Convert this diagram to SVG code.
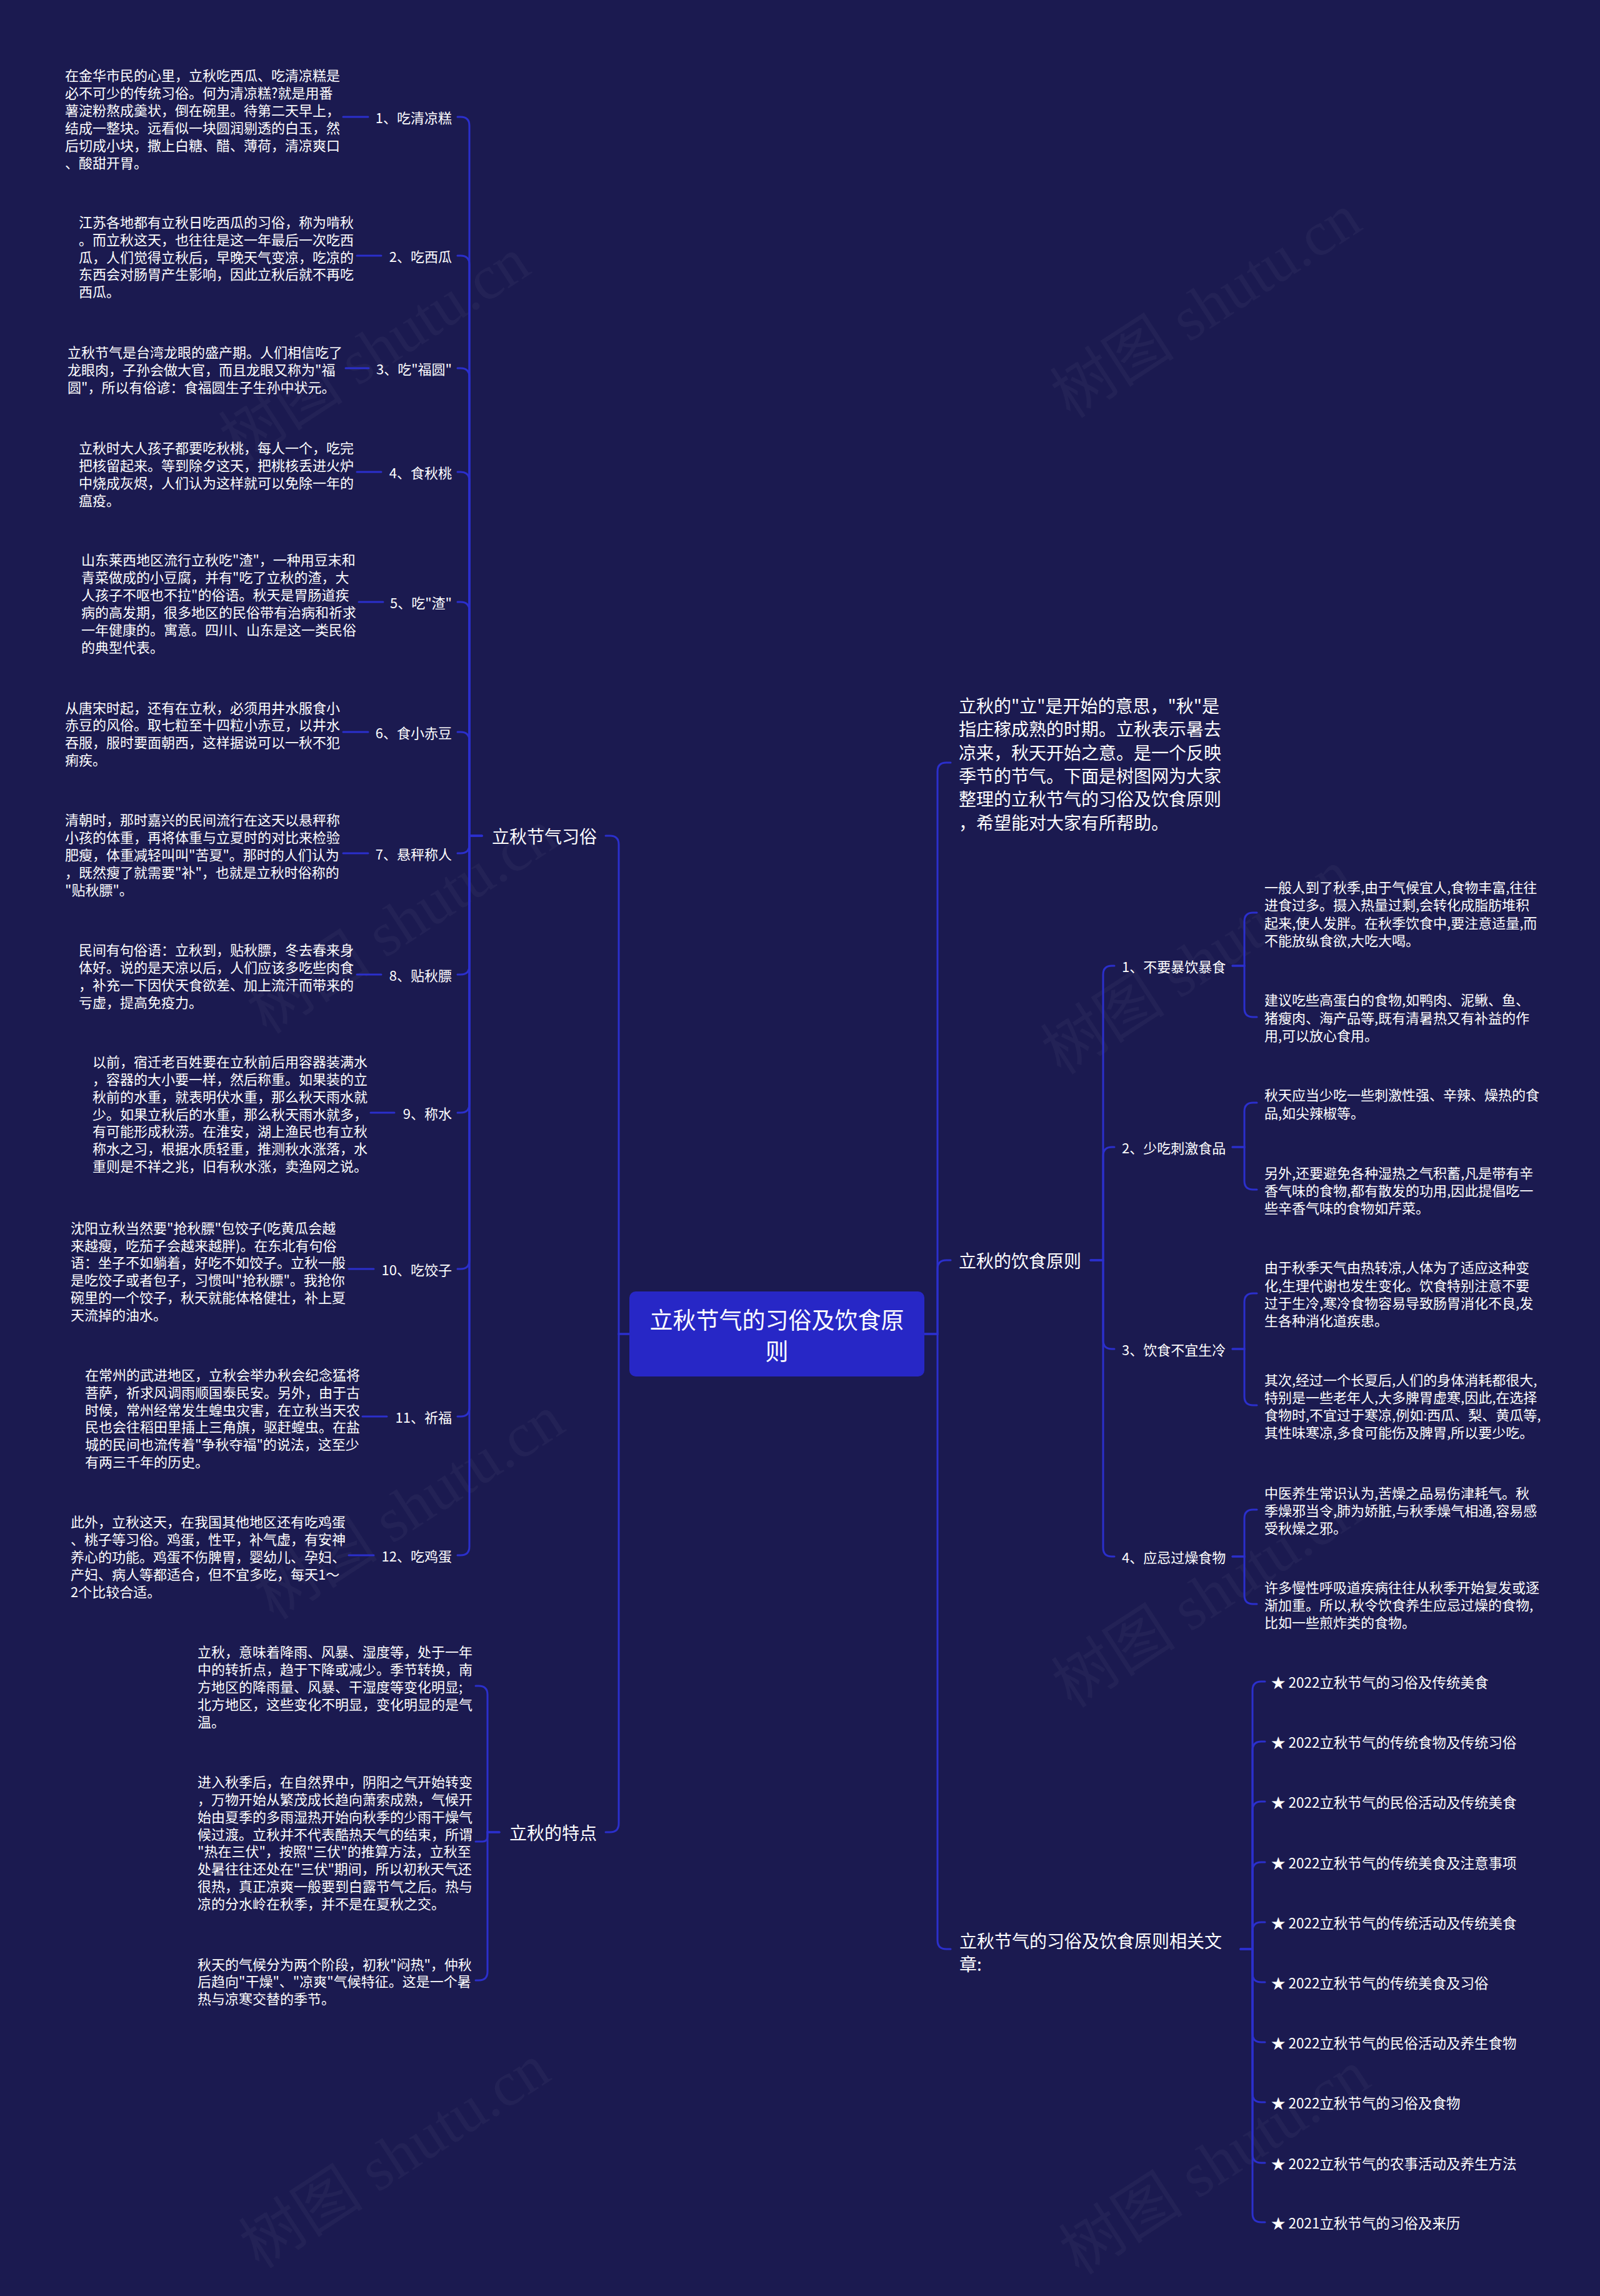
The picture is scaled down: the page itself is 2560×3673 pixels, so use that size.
<svg xmlns="http://www.w3.org/2000/svg" width="2560" height="3673" viewBox="0 0 2560 3673">
<style>
text{font-family:"Noto Sans CJK SC","Noto Sans",sans-serif;fill:#ffffff;dominant-baseline:central}
.lf{font-size:22px}
.lb{font-size:22px}
.b1{font-size:28px}
.st{font-size:22.5px}
.ct{font-size:37px}
.wm{font-family:"Liberation Serif","Noto Sans CJK SC",serif;font-size:100px;fill:#ffffff;fill-opacity:0.035}
#connectors path{fill:none;stroke:#2b2fcc;stroke-width:3;stroke-linecap:round}
</style>
<rect x="0" y="0" width="2560" height="3673" fill="#1b1a50"/>
<g id="watermarks">
<text class="wm" transform="translate(600,560) rotate(-33)" text-anchor="middle">树图 shutu.cn</text>
<text class="wm" transform="translate(1930,490) rotate(-33)" text-anchor="middle">树图 shutu.cn</text>
<text class="wm" transform="translate(644,1475) rotate(-33)" text-anchor="middle">树图 shutu.cn</text>
<text class="wm" transform="translate(1915,1540) rotate(-33)" text-anchor="middle">树图 shutu.cn</text>
<text class="wm" transform="translate(655,2412) rotate(-33)" text-anchor="middle">树图 shutu.cn</text>
<text class="wm" transform="translate(1932,2553) rotate(-33)" text-anchor="middle">树图 shutu.cn</text>
<text class="wm" transform="translate(632,3450) rotate(-33)" text-anchor="middle">树图 shutu.cn</text>
<text class="wm" transform="translate(1944,3460) rotate(-33)" text-anchor="middle">树图 shutu.cn</text>
</g>
<g id="connectors">
<path d="M1007,2134 H990 V1351 Q990,1337 976,1337 H969"/>
<path d="M1007,2134 H990 V2917 Q990,2931 976,2931 H969"/>
<path d="M1479,2134 H1500 V1234 Q1500,1220 1514,1220 H1521"/>
<path d="M1479,2134 H1500 V2030 Q1500,2016 1514,2016 H1521"/>
<path d="M1479,2134 H1500 V3104 Q1500,3118 1514,3118 H1521"/>
<path d="M771,1337 H751 V201 Q751,187 737,187 H732"/>
<path d="M771,1337 H751 V423 Q751,409 737,409 H732"/>
<path d="M771,1337 H751 V603 Q751,589 737,589 H732"/>
<path d="M771,1337 H751 V769 Q751,755 737,755 H732"/>
<path d="M771,1337 H751 V977 Q751,963 737,963 H732"/>
<path d="M771,1337 H751 V1185 Q751,1171 737,1171 H732"/>
<path d="M771,1337 H751 V1351 Q751,1365 737,1365 H732"/>
<path d="M771,1337 H751 V1545 Q751,1559 737,1559 H732"/>
<path d="M771,1337 H751 V1766 Q751,1780 737,1780 H732"/>
<path d="M771,1337 H751 V2016 Q751,2030 737,2030 H732"/>
<path d="M771,1337 H751 V2252 Q751,2266 737,2266 H732"/>
<path d="M771,1337 H751 V2474 Q751,2488 737,2488 H732"/>
<path d="M549,187 H589"/>
<path d="M571,409 H610"/>
<path d="M553,589 H590"/>
<path d="M571,755 H610"/>
<path d="M574,963 H613"/>
<path d="M549,1171 H589"/>
<path d="M549,1365 H589"/>
<path d="M571,1559 H610"/>
<path d="M593,1780 H631"/>
<path d="M558,2030 H598"/>
<path d="M580,2266 H619"/>
<path d="M558,2488 H598"/>
<path d="M799,2931 H780 V2711 Q780,2697 766,2697 H761"/>
<path d="M799,2931 H780 V2938 Q780,2946 772,2946 H761"/>
<path d="M799,2931 H780 V3154 Q780,3168 766,3168 H761"/>
<path d="M1745,2016 H1765 V1559 Q1765,1545 1779,1545 H1783"/>
<path d="M1745,2016 H1765 V1849 Q1765,1835 1779,1835 H1783"/>
<path d="M1745,2016 H1765 V2144 Q1765,2158 1779,2158 H1783"/>
<path d="M1745,2016 H1765 V2476 Q1765,2490 1779,2490 H1783"/>
<path d="M1972,1545 H1991 V1474 Q1991,1460 2005,1460 H2011"/>
<path d="M1972,1545 H1991 V1613 Q1991,1627 2005,1627 H2011"/>
<path d="M1972,1835 H1991 V1778 Q1991,1764 2005,1764 H2011"/>
<path d="M1972,1835 H1991 V1889 Q1991,1903 2005,1903 H2011"/>
<path d="M1972,2158 H1991 V2083 Q1991,2069 2005,2069 H2011"/>
<path d="M1972,2158 H1991 V2234 Q1991,2248 2005,2248 H2011"/>
<path d="M1972,2490 H1991 V2429 Q1991,2415 2005,2415 H2011"/>
<path d="M1972,2490 H1991 V2552 Q1991,2566 2005,2566 H2011"/>
<path d="M1985,3118 H2004 V2704 Q2004,2690 2018,2690 H2024"/>
<path d="M1985,3118 H2004 V2800 Q2004,2786 2018,2786 H2024"/>
<path d="M1985,3118 H2004 V2896 Q2004,2882 2018,2882 H2024"/>
<path d="M1985,3118 H2004 V2993 Q2004,2979 2018,2979 H2024"/>
<path d="M1985,3118 H2004 V3089 Q2004,3075 2018,3075 H2024"/>
<path d="M1985,3118 H2004 V3157 Q2004,3171 2018,3171 H2024"/>
<path d="M1985,3118 H2004 V3253 Q2004,3267 2018,3267 H2024"/>
<path d="M1985,3118 H2004 V3349 Q2004,3363 2018,3363 H2024"/>
<path d="M1985,3118 H2004 V3446 Q2004,3460 2018,3460 H2024"/>
<path d="M1985,3118 H2004 V3541 Q2004,3555 2018,3555 H2024"/>
</g>
<g id="center">
<rect x="1007" y="2066" width="472" height="136" rx="10" fill="#2727c6"/>
<text class="ct" text-anchor="middle"><tspan x="1243" y="2110">立秋节气的习俗及饮食原</tspan><tspan x="1243" y="2160">则</tspan></text>
</g>
<g id="n-xisu"><text class="b1" x="955" y="1337" text-anchor="end">立秋节气习俗</text></g>
<g id="n-tedian"><text class="b1" x="955" y="2931" text-anchor="end">立秋的特点</text></g>
<g id="n-intro"><text class="b1"><tspan x="1534" y="1128">立秋的"立"是开始的意思，"秋"是</tspan><tspan x="1534" y="1165">指庄稼成熟的时期。立秋表示暑去</tspan><tspan x="1534" y="1203">凉来，秋天开始之意。是一个反映</tspan><tspan x="1534" y="1240">季节的节气。下面是树图网为大家</tspan><tspan x="1534" y="1277">整理的立秋节气的习俗及饮食原则</tspan><tspan x="1534" y="1315">，希望能对大家有所帮助。</tspan></text></g>
<g id="n-yinshi"><text class="b1" x="1534" y="2016">立秋的饮食原则</text></g>
<g id="n-related"><text class="b1"><tspan x="1535" y="3104">立秋节气的习俗及饮食原则相关文</tspan><tspan x="1535" y="3141">章:</tspan></text></g>

<g id="n-x1"><text class="lb" x="723" y="187" text-anchor="end">1、吃清凉糕</text>
<text class="lf"><tspan x="104" y="119">在金华市民的心里，立秋吃西瓜、吃清凉糕是</tspan><tspan x="104" y="147">必不可少的传统习俗。何为清凉糕?就是用番</tspan><tspan x="104" y="175">薯淀粉熬成羹状，倒在碗里。待第二天早上，</tspan><tspan x="104" y="203">结成一整块。远看似一块圆润剔透的白玉，然</tspan><tspan x="104" y="231">后切成小块，撒上白糖、醋、薄荷，清凉爽口</tspan><tspan x="104" y="259">、酸甜开胃。</tspan></text></g>
<g id="n-x2"><text class="lb" x="723" y="409" text-anchor="end">2、吃西瓜</text>
<text class="lf"><tspan x="126" y="354">江苏各地都有立秋日吃西瓜的习俗，称为啃秋</tspan><tspan x="126" y="382">。而立秋这天，也往往是这一年最后一次吃西</tspan><tspan x="126" y="410">瓜，人们觉得立秋后，早晚天气变凉，吃凉的</tspan><tspan x="126" y="437">东西会对肠胃产生影响，因此立秋后就不再吃</tspan><tspan x="126" y="465">西瓜。</tspan></text></g>
<g id="n-x3"><text class="lb" x="723" y="589" text-anchor="end">3、吃"福圆"</text>
<text class="lf"><tspan x="108" y="562">立秋节气是台湾龙眼的盛产期。人们相信吃了</tspan><tspan x="108" y="590">龙眼肉，子孙会做大官，而且龙眼又称为"福</tspan><tspan x="108" y="618">圆"，所以有俗谚：食福圆生子生孙中状元。</tspan></text></g>
<g id="n-x4"><text class="lb" x="723" y="755" text-anchor="end">4、食秋桃</text>
<text class="lf"><tspan x="126" y="715">立秋时大人孩子都要吃秋桃，每人一个，吃完</tspan><tspan x="126" y="743">把核留起来。等到除夕这天，把桃核丢进火炉</tspan><tspan x="126" y="771">中烧成灰烬，人们认为这样就可以免除一年的</tspan><tspan x="126" y="799">瘟疫。</tspan></text></g>
<g id="n-x5"><text class="lb" x="723" y="963" text-anchor="end">5、吃"渣"</text>
<text class="lf"><tspan x="130" y="894">山东莱西地区流行立秋吃"渣"，一种用豆末和</tspan><tspan x="130" y="922">青菜做成的小豆腐，并有"吃了立秋的渣，大</tspan><tspan x="130" y="950">人孩子不呕也不拉"的俗语。秋天是胃肠道疾</tspan><tspan x="130" y="978">病的高发期，很多地区的民俗带有治病和祈求</tspan><tspan x="130" y="1006">一年健康的。寓意。四川、山东是这一类民俗</tspan><tspan x="130" y="1034">的典型代表。</tspan></text></g>
<g id="n-x6"><text class="lb" x="723" y="1171" text-anchor="end">6、食小赤豆</text>
<text class="lf"><tspan x="104" y="1131">从唐宋时起，还有在立秋，必须用井水服食小</tspan><tspan x="104" y="1158">赤豆的风俗。取七粒至十四粒小赤豆，以井水</tspan><tspan x="104" y="1186">吞服，服时要面朝西，这样据说可以一秋不犯</tspan><tspan x="104" y="1214">痢疾。</tspan></text></g>
<g id="n-x7"><text class="lb" x="723" y="1365" text-anchor="end">7、悬秤称人</text>
<text class="lf"><tspan x="104" y="1310">清朝时，那时嘉兴的民间流行在这天以悬秤称</tspan><tspan x="104" y="1338">小孩的体重，再将体重与立夏时的对比来检验</tspan><tspan x="104" y="1366">肥瘦，体重减轻叫叫"苦夏"。那时的人们认为</tspan><tspan x="104" y="1394">，既然瘦了就需要"补"，也就是立秋时俗称的</tspan><tspan x="104" y="1422">"贴秋膘"。</tspan></text></g>
<g id="n-x8"><text class="lb" x="723" y="1559" text-anchor="end">8、贴秋膘</text>
<text class="lf"><tspan x="126" y="1518">民间有句俗语：立秋到，贴秋膘，冬去春来身</tspan><tspan x="126" y="1546">体好。说的是天凉以后，人们应该多吃些肉食</tspan><tspan x="126" y="1574">，补充一下因伏天食欲差、加上流汗而带来的</tspan><tspan x="126" y="1602">亏虚，提高免疫力。</tspan></text></g>
<g id="n-x9"><text class="lb" x="723" y="1780" text-anchor="end">9、称水</text>
<text class="lf"><tspan x="148" y="1697">以前，宿迁老百姓要在立秋前后用容器装满水</tspan><tspan x="148" y="1725">，容器的大小要一样，然后称重。如果装的立</tspan><tspan x="148" y="1753">秋前的水重，就表明伏水重，那么秋天雨水就</tspan><tspan x="148" y="1781">少。如果立秋后的水重，那么秋天雨水就多，</tspan><tspan x="148" y="1808">有可能形成秋涝。在淮安，湖上渔民也有立秋</tspan><tspan x="148" y="1836">称水之习，根据水质轻重，推测秋水涨落，水</tspan><tspan x="148" y="1864">重则是不祥之兆，旧有秋水涨，卖渔网之说。</tspan></text></g>
<g id="n-x10"><text class="lb" x="723" y="2030" text-anchor="end">10、吃饺子</text>
<text class="lf"><tspan x="113" y="1963">沈阳立秋当然要"抢秋膘"包饺子(吃黄瓜会越</tspan><tspan x="113" y="1991">来越瘦，吃茄子会越来越胖)。在东北有句俗</tspan><tspan x="113" y="2018">语：坐子不如躺着，好吃不如饺子。立秋一般</tspan><tspan x="113" y="2046">是吃饺子或者包子，习惯叫"抢秋膘"。我抢你</tspan><tspan x="113" y="2074">碗里的一个饺子，秋天就能体格健壮，补上夏</tspan><tspan x="113" y="2102">天流掉的油水。</tspan></text></g>
<g id="n-x11"><text class="lb" x="723" y="2266" text-anchor="end">11、祈福</text>
<text class="lf"><tspan x="136" y="2198">在常州的武进地区，立秋会举办秋会纪念猛将</tspan><tspan x="136" y="2226">菩萨，祈求风调雨顺国泰民安。另外，由于古</tspan><tspan x="136" y="2254">时候，常州经常发生蝗虫灾害，在立秋当天农</tspan><tspan x="136" y="2281">民也会往稻田里插上三角旗，驱赶蝗虫。在盐</tspan><tspan x="136" y="2309">城的民间也流传着"争秋夺福"的说法，这至少</tspan><tspan x="136" y="2337">有两三千年的历史。</tspan></text></g>
<g id="n-x12"><text class="lb" x="723" y="2488" text-anchor="end">12、吃鸡蛋</text>
<text class="lf"><tspan x="113" y="2433">此外，立秋这天，在我国其他地区还有吃鸡蛋</tspan><tspan x="113" y="2461">、桃子等习俗。鸡蛋，性平，补气虚，有安神</tspan><tspan x="113" y="2489">养心的功能。鸡蛋不伤脾胃，婴幼儿、孕妇、</tspan><tspan x="113" y="2517">产妇、病人等都适合，但不宜多吃，每天1～</tspan><tspan x="113" y="2545">2个比较合适。</tspan></text></g>

<g id="n-t1"><text class="lf"><tspan x="316" y="2641">立秋，意味着降雨、风暴、湿度等，处于一年</tspan><tspan x="316" y="2669">中的转折点，趋于下降或减少。季节转换，南</tspan><tspan x="316" y="2697">方地区的降雨量、风暴、干湿度等变化明显;</tspan><tspan x="316" y="2725">北方地区，这些变化不明显，变化明显的是气</tspan><tspan x="316" y="2753">温。</tspan></text></g>
<g id="n-t2"><text class="lf"><tspan x="316" y="2849">进入秋季后，在自然界中，阴阳之气开始转变</tspan><tspan x="316" y="2877">，万物开始从繁茂成长趋向萧索成熟，气候开</tspan><tspan x="316" y="2905">始由夏季的多雨湿热开始向秋季的少雨干燥气</tspan><tspan x="316" y="2933">候过渡。立秋并不代表酷热天气的结束，所谓</tspan><tspan x="316" y="2960">"热在三伏"，按照"三伏"的推算方法，立秋至</tspan><tspan x="316" y="2988">处暑往往还处在"三伏"期间，所以初秋天气还</tspan><tspan x="316" y="3016">很热，真正凉爽一般要到白露节气之后。热与</tspan><tspan x="316" y="3044">凉的分水岭在秋季，并不是在夏秋之交。</tspan></text></g>
<g id="n-t3"><text class="lf"><tspan x="316" y="3141">秋天的气候分为两个阶段，初秋"闷热"，仲秋</tspan><tspan x="316" y="3168">后趋向"干燥"、"凉爽"气候特征。这是一个暑</tspan><tspan x="316" y="3196">热与凉寒交替的季节。</tspan></text></g>

<g id="n-y1"><text class="lb" x="1795" y="1545">1、不要暴饮暴食</text>
<text class="lf"><tspan x="2023" y="1418">一般人到了秋季,由于气候宜人,食物丰富,往往</tspan><tspan x="2023" y="1446">进食过多。摄入热量过剩,会转化成脂肪堆积</tspan><tspan x="2023" y="1475">起来,使人发胖。在秋季饮食中,要注意适量,而</tspan><tspan x="2023" y="1503">不能放纵食欲,大吃大喝。</tspan></text>
<text class="lf"><tspan x="2023" y="1598">建议吃些高蛋白的食物,如鸭肉、泥鳅、鱼、</tspan><tspan x="2023" y="1627">猪瘦肉、海产品等,既有清暑热又有补益的作</tspan><tspan x="2023" y="1655">用,可以放心食用。</tspan></text></g>
<g id="n-y2"><text class="lb" x="1795" y="1835">2、少吃刺激食品</text>
<text class="lf"><tspan x="2023" y="1750">秋天应当少吃一些刺激性强、辛辣、燥热的食</tspan><tspan x="2023" y="1779">品,如尖辣椒等。</tspan></text>
<text class="lf"><tspan x="2023" y="1875">另外,还要避免各种湿热之气积蓄,凡是带有辛</tspan><tspan x="2023" y="1903">香气味的食物,都有散发的功用,因此提倡吃一</tspan><tspan x="2023" y="1931">些辛香气味的食物如芹菜。</tspan></text></g>
<g id="n-y3"><text class="lb" x="1795" y="2158">3、饮食不宜生冷</text>
<text class="lf"><tspan x="2023" y="2026">由于秋季天气由热转凉,人体为了适应这种变</tspan><tspan x="2023" y="2055">化,生理代谢也发生变化。饮食特别注意不要</tspan><tspan x="2023" y="2083">过于生冷,寒冷食物容易导致肠胃消化不良,发</tspan><tspan x="2023" y="2111">生各种消化道疾患。</tspan></text>
<text class="lf"><tspan x="2023" y="2206">其次,经过一个长夏后,人们的身体消耗都很大,</tspan><tspan x="2023" y="2234">特别是一些老年人,大多脾胃虚寒,因此,在选择</tspan><tspan x="2023" y="2262">食物时,不宜过于寒凉,例如:西瓜、梨、黄瓜等,</tspan><tspan x="2023" y="2290">其性味寒凉,多食可能伤及脾胃,所以要少吃。</tspan></text></g>
<g id="n-y4"><text class="lb" x="1795" y="2490">4、应忌过燥食物</text>
<text class="lf"><tspan x="2023" y="2387">中医养生常识认为,苦燥之品易伤津耗气。秋</tspan><tspan x="2023" y="2415">季燥邪当令,肺为娇脏,与秋季燥气相通,容易感</tspan><tspan x="2023" y="2443">受秋燥之邪。</tspan></text>
<text class="lf"><tspan x="2023" y="2538">许多慢性呼吸道疾病往往从秋季开始复发或逐</tspan><tspan x="2023" y="2566">渐加重。所以,秋令饮食养生应忌过燥的食物,</tspan><tspan x="2023" y="2594">比如一些煎炸类的食物。</tspan></text></g>

<g id="n-related-items">
<text class="st" x="2034" y="2690">★ 2022立秋节气的习俗及传统美食</text>
<text class="st" x="2034" y="2786">★ 2022立秋节气的传统食物及传统习俗</text>
<text class="st" x="2034" y="2882">★ 2022立秋节气的民俗活动及传统美食</text>
<text class="st" x="2034" y="2979">★ 2022立秋节气的传统美食及注意事项</text>
<text class="st" x="2034" y="3075">★ 2022立秋节气的传统活动及传统美食</text>
<text class="st" x="2034" y="3171">★ 2022立秋节气的传统美食及习俗</text>
<text class="st" x="2034" y="3267">★ 2022立秋节气的民俗活动及养生食物</text>
<text class="st" x="2034" y="3363">★ 2022立秋节气的习俗及食物</text>
<text class="st" x="2034" y="3460">★ 2022立秋节气的农事活动及养生方法</text>
<text class="st" x="2034" y="3555">★ 2021立秋节气的习俗及来历</text>
</g>
</svg>
